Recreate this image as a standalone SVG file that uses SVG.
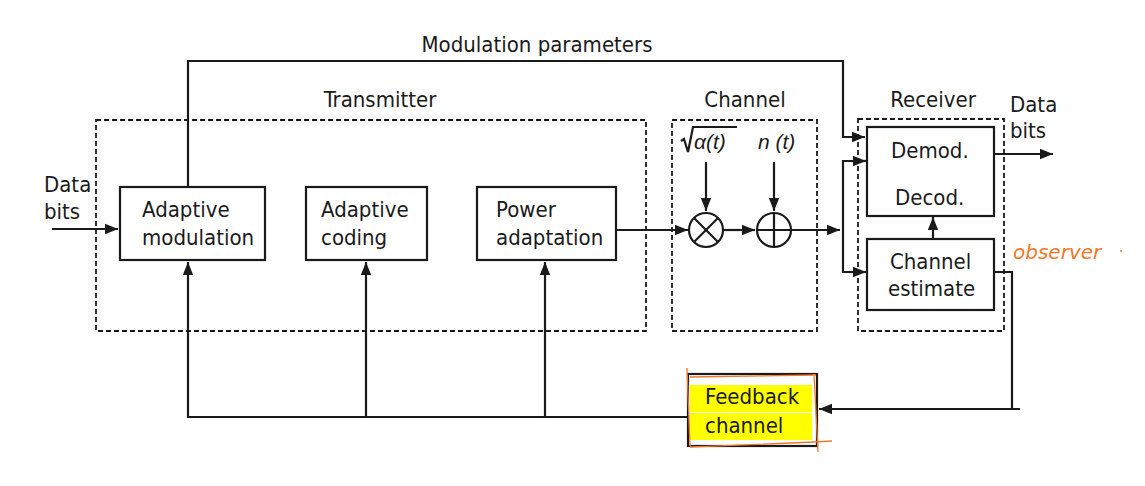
<svg xmlns="http://www.w3.org/2000/svg" width="1145" height="486" viewBox="0 0 1145 486">
<defs>
<style>
text{font-family:"Liberation Sans Narrow","DejaVu Sans Condensed","Liberation Sans",sans-serif;font-size:22px;fill:#1a1a1a}
.box{fill:#fff;stroke:#1a1a1a;stroke-width:2.2}
.dash{fill:none;stroke:#1a1a1a;stroke-width:1.8;stroke-dasharray:5 3}
.ln{fill:none;stroke:#1a1a1a;stroke-width:2.2}
.math{font-family:"Liberation Sans","DejaVu Sans",sans-serif;font-style:italic;font-size:21px}
.orange{fill:none;stroke:#f07828;stroke-width:1.3}
</style>
<marker id="ahb" viewBox="0 0 10 10" refX="10" refY="5" markerWidth="13" markerHeight="13" orient="auto" markerUnits="userSpaceOnUse">
<path d="M0,1 L10,5 L0,9 z" fill="#1a1a1a"/>
</marker>
</defs>
<rect width="1145" height="486" fill="#fff"/>

<g id="frames">
<rect class="dash" x="96" y="120" width="550" height="211"/>
<rect class="dash" x="672" y="120" width="145" height="211"/>
<rect class="dash" x="858" y="119" width="146" height="212"/>
<text x="380" y="107" text-anchor="middle">Transmitter</text>
<text x="745" y="107" text-anchor="middle">Channel</text>
<text x="933" y="107" text-anchor="middle">Receiver</text>
</g>

<g id="connectors">
<polyline class="ln" points="188,187 188,61 843,61 843,137 865,137" marker-end="url(#ahb)"/>
<line class="ln" x1="52" y1="229" x2="118" y2="229" marker-end="url(#ahb)"/>
<line class="ln" x1="616" y1="230" x2="688" y2="230" marker-end="url(#ahb)"/>
<line class="ln" x1="724" y1="230" x2="755" y2="230" marker-end="url(#ahb)"/>
<line class="ln" x1="791" y1="230" x2="840" y2="230" marker-end="url(#ahb)"/>
<line class="ln" x1="706" y1="162" x2="706" y2="211" marker-end="url(#ahb)"/>
<line class="ln" x1="774" y1="162" x2="774" y2="211" marker-end="url(#ahb)"/>
<polyline class="ln" points="865,161 843,161 843,272 865,272"/>
<line class="ln" x1="851" y1="161" x2="866" y2="161" marker-end="url(#ahb)"/>
<line class="ln" x1="851" y1="272" x2="866" y2="272" marker-end="url(#ahb)"/>
<line class="ln" x1="994" y1="154" x2="1053" y2="154" marker-end="url(#ahb)"/>
<line class="ln" x1="933" y1="239" x2="933" y2="217" marker-end="url(#ahb)"/>
<polyline class="ln" points="994,272 1012,272 1012,409"/>
<line class="ln" x1="1020" y1="409" x2="819" y2="409" marker-end="url(#ahb)"/>
<polyline class="ln" points="688,417 188,417 188,262" marker-end="url(#ahb)"/>
<line class="ln" x1="366" y1="417" x2="366" y2="262" marker-end="url(#ahb)"/>
<line class="ln" x1="545" y1="417" x2="545" y2="262" marker-end="url(#ahb)"/>
</g>

<g id="label-modparams">
<text x="537" y="52" text-anchor="middle">Modulation parameters</text>
</g>

<g id="datain">
<text x="44" y="192">Data</text>
<text x="44" y="219">bits</text>
</g>

<g id="dataout">
<text x="1010" y="112">Data</text>
<text x="1010" y="138">bits</text>
</g>

<g id="adaptive-modulation">
<rect class="box" x="120" y="187" width="145" height="73"/>
<text x="142" y="217">Adaptive</text>
<text x="142" y="245">modulation</text>
</g>

<g id="adaptive-coding">
<rect class="box" x="306" y="187" width="121" height="73"/>
<text x="321" y="217">Adaptive</text>
<text x="321" y="245">coding</text>
</g>

<g id="power-adaptation">
<rect class="box" x="477" y="187" width="139" height="73"/>
<text x="496" y="217">Power</text>
<text x="496" y="245">adaptation</text>
</g>

<g id="multiplier">
<circle class="ln" cx="706" cy="230" r="17" fill="#fff"/>
<line class="ln" x1="694" y1="218" x2="718" y2="242"/>
<line class="ln" x1="718" y1="218" x2="694" y2="242"/>
<path class="ln" d="M681,141 L684,139 L688,152 L693,127 L737,127" stroke-width="1.6"/>
<text class="math" x="694" y="149">α(t)</text>
</g>

<g id="adder">
<circle class="ln" cx="774" cy="230" r="17" fill="#fff"/>
<line class="ln" x1="757" y1="230" x2="791" y2="230"/>
<line class="ln" x1="774" y1="213" x2="774" y2="247"/>
<text class="math" x="758" y="149">n (t)</text>
</g>

<g id="demod">
<rect class="box" x="867" y="127" width="127" height="89"/>
<text x="891" y="158">Demod.</text>
<text x="895" y="205">Decod.</text>
</g>

<g id="channel-estimate">
<rect class="box" x="867" y="239" width="127" height="71"/>
<text x="890" y="269">Channel</text>
<text x="888" y="296">estimate</text>
</g>

<g id="feedback-channel">
<rect class="box" x="688" y="374" width="129" height="72"/>
<rect x="690" y="385" width="122" height="27" fill="#ffff00"/>
<rect x="690" y="413" width="122" height="27" fill="#ffff00"/>
<text x="705" y="404">Feedback</text>
<text x="705" y="433">channel</text>
<path class="orange" d="M687,368 L690,446 M690,377 L816,375 M814,374 L818,452 M690,447 Q750,445 832,441"/>
</g>

<g id="observer">
<text x="1013" y="259" style="font-family:'DejaVu Sans',sans-serif;font-style:italic;font-size:20px;fill:#f07828">observer</text>
<circle cx="1121" cy="251" r="1" fill="#f07828"/>
</g>
</svg>
